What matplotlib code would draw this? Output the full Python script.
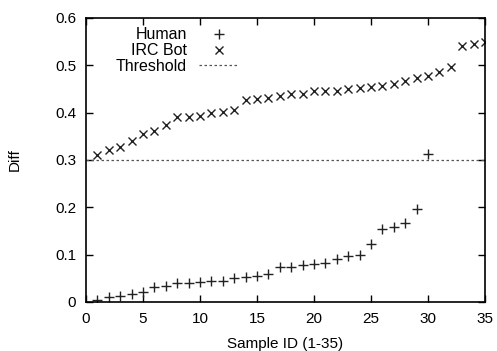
import matplotlib
matplotlib.use("Agg")
import matplotlib.pyplot as plt

plt.rcParams['font.family'] = ['Liberation Sans', 'DejaVu Sans']

# human samples (sorted diff values)
human_ids = list(range(1, 31))
human_diff = [0.004, 0.010, 0.012, 0.017, 0.020, 0.032, 0.033, 0.040, 0.040, 0.041,
              0.045, 0.045, 0.050, 0.053, 0.055, 0.058, 0.073, 0.073, 0.078, 0.080,
              0.082, 0.090, 0.096, 0.099, 0.122, 0.155, 0.158, 0.166, 0.197, 0.313]

# irc bot samples
bot_ids = list(range(1, 36))
bot_diff = [0.310, 0.320, 0.328, 0.340, 0.355, 0.360, 0.373, 0.390, 0.391, 0.393,
            0.400, 0.401, 0.406, 0.426, 0.428, 0.430, 0.435, 0.440, 0.440, 0.445,
            0.445, 0.446, 0.450, 0.451, 0.455, 0.456, 0.460, 0.466, 0.472, 0.477,
            0.485, 0.497, 0.540, 0.545, 0.550]

threshold = 0.3

fig = plt.figure(figsize=(4.97, 3.51), dpi=100)
ax = fig.add_axes([0.173, 0.14, 0.803, 0.809])

ax.plot(human_ids, human_diff, linestyle='none', marker='+', markersize=6.5,
        markeredgewidth=1.0, color='#222222', label='Human')
ax.plot(bot_ids, bot_diff, linestyle='none', marker='x', markersize=6,
        markeredgewidth=1.0, color='#222222', label='IRC Bot')
ax.axhline(threshold, color='#555555', linestyle=(0, (2, 2)), linewidth=0.9,
           label='Threshold')

ax.set_xlim(0, 35)
ax.set_ylim(0, 0.6)
ax.set_xticks(range(0, 36, 5))
ax.set_yticks([0, 0.1, 0.2, 0.3, 0.4, 0.5, 0.6])
ax.set_yticklabels(['0', '0.1', '0.2', '0.3', '0.4', '0.5', '0.6'])
ax.tick_params(direction='in', length=5, width=1, top=True, right=True, labelsize=11)
ax.tick_params(axis='x', pad=7)
ax.tick_params(axis='y', pad=7)
for s in ax.spines.values():
    s.set_linewidth(1.2)

ax.set_xlabel('Sample ID (1-35)', fontsize=11, labelpad=8)
ax.set_ylabel('Diff', fontsize=11, labelpad=24)

ax.legend(loc='upper left', frameon=False, markerfirst=False, fontsize=11.5,
          handlelength=2.5, labelspacing=0.05, borderaxespad=0.2,
          bbox_to_anchor=(0.05, 1.0))

fig.savefig('out.png', dpi=100)
